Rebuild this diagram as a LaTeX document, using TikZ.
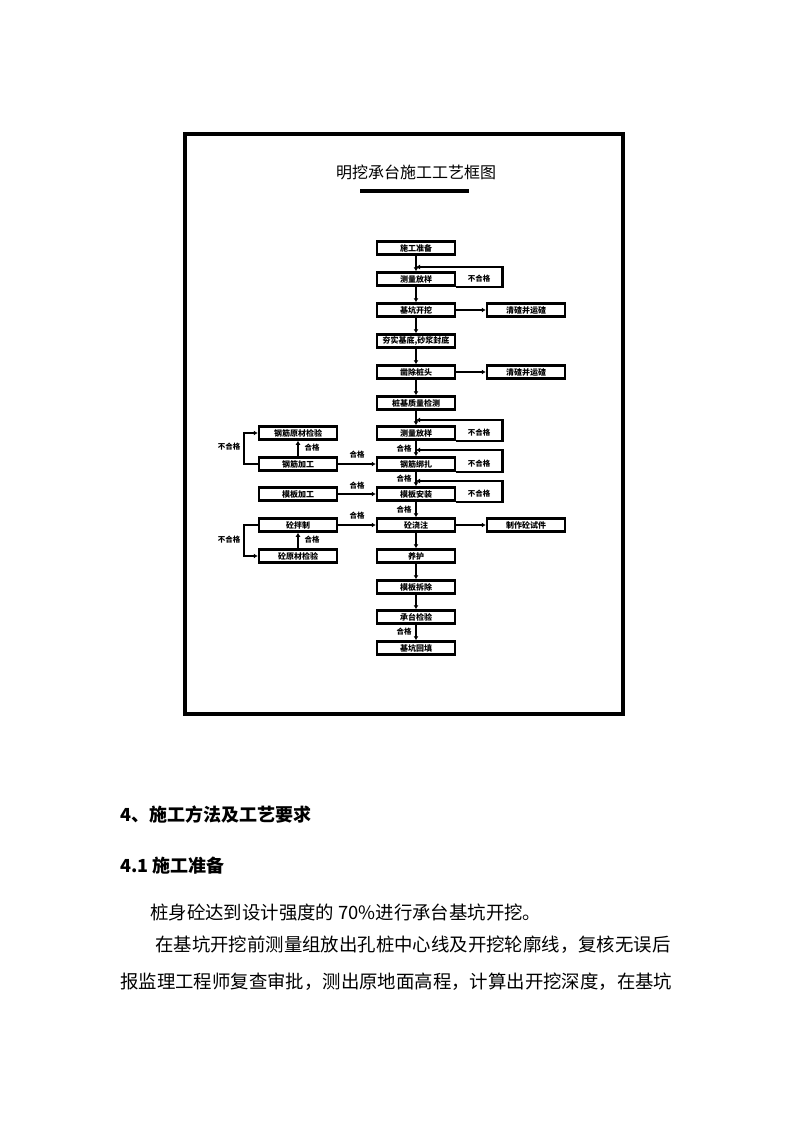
\documentclass[tikz,border=0pt]{standalone}
\usepackage{fontspec}
\newfontfamily\cjk{Noto Sans CJK SC}
\usetikzlibrary{arrows.meta}
\begin{document}
\begin{tikzpicture}[x=1pt,y=-1pt,
  box/.style={draw, line width=2.5pt, minimum width=78pt, minimum height=13pt, inner sep=0pt, font=\cjk\bfseries\fontsize{8}{8}\selectfont},
  arr/.style={line width=2.5pt, -{Latex[length=4pt,width=5pt]}},
  lbl/.style={font=\cjk\bfseries\fontsize{7.5}{7.5}\selectfont, inner sep=0pt},
  bodytext/.style={font=\cjk\fontsize{18.4}{18.4}\selectfont, inner sep=0pt, anchor=west},
  headtext/.style={font=\cjk\bfseries\fontsize{18}{18}\selectfont, inner sep=0pt, anchor=west}]
\useasboundingbox (0,0) rectangle (794,1123);
\fill[white] (0,0) rectangle (794,1123);

% frame
\draw[line width=3.5pt] (185,134) rectangle (623,714);

% title
\node[font=\cjk\fontsize{16}{16}\selectfont, inner sep=0pt] (title) at (416,172) {明挖承台施工工艺框图};
\draw[line width=3.5pt] (360,191) -- (469,191);

% central column
\node[box] (c1) at (416,248) {施工准备};
\node[box] (c2) at (416,279) {测量放样};
\node[box] (c3) at (416,310) {基坑开挖};
\node[box] (c4) at (416,341) {夯实基底,砂浆封底};
\node[box] (c5) at (416,372) {凿除桩头};
\node[box] (c6) at (416,403) {桩基质量检测};
\node[box] (c7) at (416,433) {测量放样};
\node[box] (c8) at (416,464) {钢筋绑扎};
\node[box] (c9) at (416,494) {模板安装};
\node[box] (c10) at (416,525) {砼浇注};
\node[box] (c11) at (416,556) {养护};
\node[box] (c12) at (416,587) {模板拆除};
\node[box] (c13) at (416,617) {承台检验};
\node[box] (c14) at (416,648) {基坑回填};

% right column
\node[box] (r1) at (526,310) {清碴并运碴};
\node[box] (r2) at (526,372) {清碴并运碴};
\node[box] (r3) at (526,525) {制作砼试件};

% left column
\node[box] (l1) at (298,433) {钢筋原材检验};
\node[box] (l2) at (298,464) {钢筋加工};
\node[box] (l3) at (298,494) {模板加工};
\node[box] (l4) at (298,525) {砼拌制};
\node[box] (l5) at (298,556) {砼原材检验};

% central arrows
\foreach \a/\b in {c1/c2,c2/c3,c3/c4,c4/c5,c5/c6,c6/c7,c7/c8,c8/c9,c9/c10,c10/c11,c11/c12,c12/c13,c13/c14}
  \draw[arr] (\a) -- (\b);

% right arrows
\draw[arr] (c3) -- (r1);
\draw[arr] (c5) -- (r2);
\draw[arr] (c10) -- (r3);

% fail loops on the right
\coordinate (m2) at (416,267);
\coordinate (m7) at (416,420);
\coordinate (m8) at (416,450);
\coordinate (m9) at (416,481);
\draw[arr] (c2.south east) -- ++(46,0) |- (m2);
\draw[arr] (c7.south east) -- ++(46,0) |- (m7);
\draw[arr] (c8.south east) -- ++(46,0) |- (m8);
\draw[arr] (c9.south east) -- ++(46,0) |- (m9);
\node[lbl] (f2) at (479,279) {不合格};
\node[lbl] (f7) at (479,433) {不合格};
\node[lbl] (f8) at (479,464) {不合格};
\node[lbl] (f9) at (479,494) {不合格};

% pass labels on central line
\node[lbl] (p8) at (404,449) {合格};
\node[lbl] (p9) at (404,479) {合格};
\node[lbl] (p10) at (404,510) {合格};
\node[lbl] (p14) at (404,632) {合格};

% left to centre
\draw[arr] (l2) -- (c8);
\draw[arr] (l3) -- (c9);
\draw[arr] (l4) -- (c10);
\node[lbl] (q2) at (357,455) {合格};
\node[lbl] (q3) at (357,486) {合格};
\node[lbl] (q4) at (357,516) {合格};

% left vertical links
\draw[arr] (l2) -- (l1);
\draw[arr] (l5) -- (l4);
\node[lbl] (s1) at (312,448) {合格};
\node[lbl] (s2) at (312,540) {合格};

% left fail loops
\draw[arr] (l2.west) -- ++(-14,0) |- (l1.west);
\draw[arr] (l4.west) -- ++(-14,0) |- (l5.west);
\node[lbl] (g1) at (229,447) {不合格};
\node[lbl] (g2) at (229,540) {不合格};

% body text
\node[headtext] (h1) at (120,815) {4、施工方法及工艺要求};
\node[headtext] (h2) at (120,866) {4.1 施工准备};
\node[bodytext] (t1) at (150,912) {桩身砼达到设计强度的 70\%进行承台基坑开挖。};
\node[bodytext] (t2) at (155,945) {在基坑开挖前测量组放出孔桩中心线及开挖轮廓线，复核无误后};
\node[bodytext] (t3) at (120,982) {报监理工程师复查审批，测出原地面高程，计算出开挖深度，在基坑};
\end{tikzpicture}
\end{document}
